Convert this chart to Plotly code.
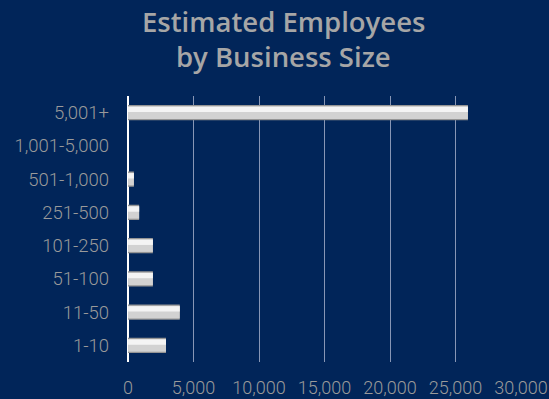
import plotly.graph_objects as go

categories = ["1-10", "11-50", "51-100", "101-250", "251-500", "501-1,000", "1,001-5,000", "5,001+"]
employees = [2900, 3950, 1900, 1900, 850, 450, 0, 25950]
x_ticks = [0, 5000, 10000, 15000, 20000, 25000, 30000]
x_tick_labels = ["0", "5,000", "10,000", "15,000", "20,000", "25,000", "30,000"]

bg = "#012559"
fig = go.Figure()
# bevel: dark base, mid layer, highlight strip
fig.add_trace(go.Bar(y=categories, x=employees, orientation="h", width=0.46,
                     marker=dict(color="#959595", line=dict(width=0)), hoverinfo="skip"))
fig.add_trace(go.Bar(y=categories, x=employees, orientation="h", width=0.38,
                     marker=dict(color="#d2d2d2", line=dict(width=0)), hoverinfo="skip"))
fig.add_trace(go.Bar(y=categories, x=employees, orientation="h", width=0.16, offset=0.02,
                     marker=dict(color="#f4f4f4", line=dict(width=0)), hoverinfo="skip"))

title_font = dict(family="Open Sans", size=27.5, color="#a6a6a6", weight=600)
fig.update_layout(
    width=549, height=399,
    paper_bgcolor=bg, plot_bgcolor=bg,
    barmode="overlay", showlegend=False,
    margin=dict(l=128, r=28, t=96, b=37),
    font=dict(family="Roboto", color="#9a9a9a"),
    annotations=[
        dict(text="Estimated Employees", xref="paper", yref="paper",
             x=(283 - 128) / 393, y=1 + (96 - 22) / 266, xanchor="center", yanchor="middle",
             showarrow=False, font=title_font),
        dict(text="by Business Size", xref="paper", yref="paper",
             x=(283 - 128) / 393, y=1 + (96 - 56) / 266, xanchor="center", yanchor="middle",
             showarrow=False, font=title_font),
    ],
)
fig.update_xaxes(range=[0, 30000], tickvals=x_ticks, ticktext=x_tick_labels,
                 showgrid=True, gridcolor="#8796b5", gridwidth=1,
                 zeroline=True, zerolinecolor="#ffffff", zerolinewidth=2,
                 tickfont=dict(size=18, color="#9a9a9a", weight=300), ticks="", ticklabelstandoff=13,
                 showline=False, automargin=False)
fig.update_yaxes(categoryorder="array", categoryarray=categories,
                 tickfont=dict(size=18.5, color="#9a9a9a", weight=300), ticks="", ticklabelstandoff=18,
                 showgrid=False, showline=False, automargin=False)

fig.write_html("out.html")
